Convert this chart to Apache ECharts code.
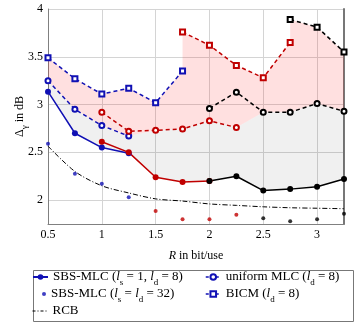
<!DOCTYPE html>
<html>
<head>
<meta charset="utf-8">
<script src="https://cdn.jsdelivr.net/npm/echarts@6/dist/echarts.min.js"></script>
<style>
html, body { margin: 0; padding: 0; background: #fff; }
#chart { width: 358px; height: 323px; }
</style>
</head>
<body>
<div id="chart"></div>
<script>
// rate R in bit/use, gap in dB; each scheme split into three colour groups
const sbsBlueR = [0.5, 0.75, 1.0, 1.25]
const sbsBlue = [3.135, 2.70, 2.55, 2.49]
const sbsRedR = [1.0, 1.25, 1.5, 1.75, 2.0]
const sbsRed = [2.61, 2.50, 2.24, 2.19, 2.20]
const sbsBlackR = [2.0, 2.25, 2.5, 2.75, 3.0, 3.25]
const sbsBlack = [2.20, 2.25, 2.10, 2.115, 2.14, 2.22]

const sbs32BlueR = [0.5, 0.75, 1.0, 1.25]
const sbs32Blue = [2.59, 2.275, 2.17, 2.03]
const sbs32RedR = [1.5, 1.75, 2.0, 2.25]
const sbs32Red = [1.885, 1.80, 1.80, 1.846]
const sbs32BlackR = [2.5, 2.75, 3.0, 3.25]
const sbs32Black = [1.81, 1.78, 1.80, 1.857]

const uniBlueR = [0.5, 0.75, 1.0, 1.25]
const uniBlue = [3.25, 2.95, 2.78, 2.67]
const uniRedR = [1.0, 1.25, 1.5, 1.75, 2.0, 2.25]
const uniRed = [2.92, 2.72, 2.73, 2.745, 2.83, 2.76]
const uniBlackR = [2.0, 2.25, 2.5, 2.75, 3.0, 3.25]
const uniBlack = [2.96, 3.13, 2.92, 2.92, 3.01, 2.93]

const bicmBlueR = [0.5, 0.75, 1.0, 1.25, 1.5, 1.75]
const bicmBlue = [3.49, 3.27, 3.11, 3.17, 3.02, 3.35]
const bicmRedR = [1.75, 2.0, 2.25, 2.5, 2.75]
const bicmRed = [3.76, 3.62, 3.41, 3.28, 3.65]
const bicmBlackR = [2.75, 3.0, 3.25]
const bicmBlack = [3.89, 3.81, 3.55]

const rcbR = [0.5, 0.75, 1.0, 1.25, 1.5, 1.75, 2.0, 2.25, 2.5, 2.75, 3.0, 3.25]
const rcb = [2.565, 2.30, 2.15, 2.075, 2.013, 1.99, 1.96, 1.945, 1.93, 1.92, 1.915, 1.91]

const xTicks = [0.5, 1, 1.5, 2, 2.5, 3]
const yTicks = [2, 2.5, 3, 3.5, 4]

const F = 'Liberation Serif'
const BLUE = '#1010b4'
const RED = '#c00000'
const BLACK = '#000000'

const pts = (r, v) => r.map((x, i) => [x, v[i]])

// lowest value per rate over several groups
function lowerEnvelope(groups) {
    const m = {}
    groups.forEach(g => g.forEach(p => {
        m[p[0]] = m[p[0]] === undefined ? p[1] : Math.min(m[p[0]], p[1])
    }))
    return Object.keys(m).map(Number).sort((a, b) => a - b).map(r => [r, m[r]])
}

const uniEnv = lowerEnvelope([pts(uniBlueR, uniBlue), pts(uniRedR, uniRed), pts(uniBlackR, uniBlack)])
const sbsEnv = lowerEnvelope([pts(sbsBlueR, sbsBlue), pts(sbsRedR, sbsRed), pts(sbsBlackR, sbsBlack)])
const bicmTop = pts(bicmBlueR, bicmBlue).concat(pts(bicmRedR, bicmRed), pts(bicmBlackR, bicmBlack))

function band(top, bottom, color) {
    return {
        type: 'custom',
        silent: true,
        z: 1,
        data: [top[0]],
        renderItem: (params, api) => ({
            type: 'polygon',
            shape: { points: top.concat(bottom.slice().reverse()).map(p => api.coord(p)) },
            style: { fill: color }
        })
    }
}

function line(name, data, color, dashed, symbol, size) {
    return {
        name, type: 'line', data, symbol, symbolSize: size, z: 3,
        lineStyle: { color, width: 1.5, type: dashed ? [4, 3] : 'solid' },
        itemStyle: { color, borderColor: color, borderWidth: symbol.indexOf('empty') === 0 ? 1.3 : 0 }
    }
}

function dots(name, data, color) {
    return { name, type: 'scatter', data, symbol: 'circle', symbolSize: 4, z: 3, itemStyle: { color } }
}

const labels = {
    sbs1: 'SBS-MLC ({i|l}{s|s} = 1, {i|l}{s|d} = 8)',
    uni: 'uniform MLC ({i|l}{s|d} = 8)',
    sbs32: 'SBS-MLC ({i|l}{s|s} = {i|l}{s|d} = 32)',
    bicm: 'BICM ({i|l}{s|d} = 8)',
    rcb: 'RCB'
}
const rich = {
    i: { fontFamily: F, fontSize: 13, fontStyle: 'italic', color: '#000' },
    s: { fontFamily: F, fontSize: 9, color: '#000', verticalAlign: 'bottom', lineHeight: 8, padding: [0, 0, -3, 0] }
}
function legendAt(item, left, top, w, h) {
    return {
        data: [item], left, top, padding: 0, itemWidth: w, itemHeight: h, itemGap: 0,
        selectedMode: false,
        textStyle: { fontFamily: F, fontSize: 13, color: '#000', lineHeight: 14, rich },
        formatter: n => labels[n]
    }
}

const chart = echarts.init(document.getElementById('chart'))
chart.setOption({
    animation: false,
    grid: { left: 48, right: 14, top: 9, bottom: 99 },
    xAxis: {
        type: 'value', min: 0.5, max: 3.25, interval: 0.5,
        name: '{i|R} in bit/use', nameLocation: 'middle', nameGap: 26, nameMoveOverlap: false,
        nameTextStyle: { fontFamily: F, fontSize: 12, color: '#000', rich: { i: { fontFamily: F, fontSize: 12, fontStyle: 'italic' } } },
        axisLine: { lineStyle: { color: '#808080', width: 1 } },
        axisTick: { show: false },
        axisLabel: {
            fontFamily: F, fontSize: 12, color: '#000', margin: 5,
            formatter: v => xTicks.indexOf(v) >= 0 ? String(v) : ''
        },
        splitLine: { lineStyle: { color: '#d4d4d4', width: 1 } }
    },
    yAxis: [{
        type: 'value', min: 1.75, max: 4, interval: 0.25,
        name: 'Δ{s|γ} in dB', nameLocation: 'middle', nameGap: 22, nameRotate: 90, nameMoveOverlap: false,
        nameTextStyle: { fontFamily: F, fontSize: 12, color: '#000', rich: { s: { fontFamily: F, fontSize: 9, verticalAlign: 'bottom', lineHeight: 8, padding: [0, 0, -3, 0] } } },
        axisLine: { show: true, lineStyle: { color: '#808080', width: 1 } },
        axisTick: { show: false },
        axisLabel: {
            fontFamily: F, fontSize: 12, color: '#000', margin: 5,
            formatter: v => yTicks.indexOf(v) >= 0 ? String(v) : ''
        },
        splitLine: { lineStyle: { color: ['rgba(0,0,0,0)', '#d4d4d4'], width: 1 } }
    }, {
        type: 'value', min: 1.75, max: 4, position: 'right',
        axisLine: { show: true, lineStyle: { color: '#777', width: 2 } },
        axisTick: { show: false }, axisLabel: { show: false }, splitLine: { show: false }
    }],
    legend: [
        legendAt({ name: 'sbs1' }, 32, 270, 15, 7),
        legendAt({ name: 'uni', lineStyle: { type: [3, 2], width: 1.5 } }, 205, 270, 15, 7),
        legendAt({ name: 'sbs32' }, 42, 287, 4, 4),
        legendAt({ name: 'bicm', lineStyle: { type: [3, 2], width: 1.5 } }, 205, 287, 15, 7),
        legendAt({ name: 'rcb', itemStyle: { opacity: 0 }, lineStyle: { type: [3, 2, 1, 2], width: 1 } }, 32, 304, 15, 7)
    ],
    graphic: [{
        type: 'rect', left: 31, top: 268, z: -1,
        shape: { width: 320, height: 51 },
        style: { fill: 'none', stroke: '#777', lineWidth: 1 }
    }],
    series: [
        band(bicmTop, uniEnv, 'rgba(255,0,0,0.12)'),
        band(uniEnv, sbsEnv, 'rgba(0,0,0,0.06)'),
        {
            name: 'rcb', type: 'line', data: pts(rcbR, rcb), symbol: 'none', smooth: 0.3, z: 2,
            lineStyle: { color: BLACK, width: 1, type: [5, 2, 1, 2] }, itemStyle: { color: BLACK }
        },
        line('sbs1', pts(sbsBlueR, sbsBlue), BLUE, false, 'circle', 6),
        line('sbs1-red', pts(sbsRedR, sbsRed), RED, false, 'circle', 6),
        line('sbs1-black', pts(sbsBlackR, sbsBlack), BLACK, false, 'circle', 6),
        dots('sbs32', pts(sbs32BlueR, sbs32Blue), BLUE),
        dots('sbs32-red', pts(sbs32RedR, sbs32Red), RED),
        dots('sbs32-black', pts(sbs32BlackR, sbs32Black), BLACK),
        line('uni', pts(uniBlueR, uniBlue), BLUE, true, 'emptyCircle', 5),
        line('uni-red', pts(uniRedR, uniRed), RED, true, 'emptyCircle', 5),
        line('uni-black', pts(uniBlackR, uniBlack), BLACK, true, 'emptyCircle', 5),
        line('bicm', pts(bicmBlueR, bicmBlue), BLUE, true, 'emptyRect', 5),
        line('bicm-red', pts(bicmRedR, bicmRed), RED, true, 'emptyRect', 5),
        line('bicm-black', pts(bicmBlackR, bicmBlack), BLACK, true, 'emptyRect', 5)
    ]
})
</script>
</body>
</html>
